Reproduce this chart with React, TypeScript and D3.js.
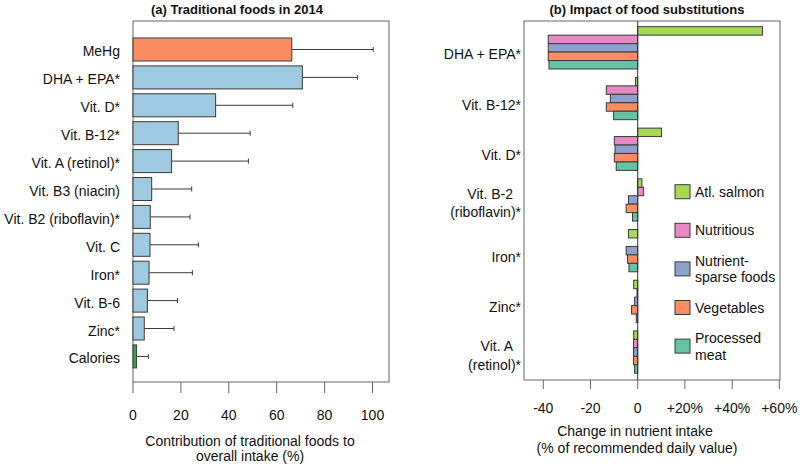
import React from "react";
import * as d3 from "d3";

// (a) Traditional foods in 2014
const nutrientsA = [
  "MeHg", "DHA + EPA*", "Vit. D*", "Vit. B-12*", "Vit. A (retinol)*", "Vit. B3 (niacin)",
  "Vit. B2 (riboflavin)*", "Vit. C", "Iron*", "Vit. B-6", "Zinc*", "Calories",
];
const contribution = [66.3, 70.7, 34.5, 18.9, 16.1, 7.8, 7.2, 7.1, 6.7, 6.0, 4.7, 1.5];
const contributionUpper = [100.3, 93.7, 66.7, 48.9, 48.2, 24.5, 23.8, 27.3, 24.8, 18.6, 17.1, 6.4];
const ticksA = [0, 20, 40, 60, 80, 100];

// (b) Impact of food substitutions
const nutrientsB = [
  ["DHA + EPA*"], ["Vit. B-12*"], ["Vit. D*"], ["Vit. B-2 ", "(riboflavin)*"],
  ["Iron*"], ["Zinc*"], ["Vit. A ", "(retinol)*"],
];
const substitutes = ["Atl. salmon", "Nutritious", "Nutrient-sparse foods", "Vegetables", "Processed meat"];
const legendLines = [["Atl. salmon"], ["Nutritious"], ["Nutrient-", "sparse foods"], ["Vegetables"], ["Processed", "meat"]];
// rows = nutrients, cols = substitutes
const changes = [
  [52.9, -37.9, -37.9, -37.9, -37.6],
  [-0.9, -13.3, -11.6, -13.3, -10.2],
  [10.1, -9.9, -9.6, -9.9, -9.1],
  [1.8, 2.5, -3.9, -4.9, -2.2],
  [-3.9, 0, -4.9, -4.3, -3.7],
  [-1.7, -0.3, -1.3, -2.6, -0.6],
  [-1.7, -1.8, -1.8, -1.8, -1.3],
];
const ticksB = [-40, -20, 0, 20, 40, 60];
const tickLabelsB = ["-40", "-20", "0", "+20%", "+40%", "+60%"];

const colorsB = ["#a6d854", "#e78ac3", "#8da0cb", "#fc8d62", "#66c2a5"];
const font = "'Liberation Sans', Arial, sans-serif";
const frame = "#666";
const barStroke = "#3a3a3a";

export default function App() {
  // panel a scales
  const xA = d3.scaleLinear().domain([0, 100]).range([133, 372.5]);
  const yA = d3.scaleBand<string>().domain(nutrientsA).range([33.1, 372.8]).padding(0.175);
  const boxA = { x0: 133, x1: 389, y0: 21, y1: 382 };
  const fillA = (d: string) => (d === "MeHg" ? "#fc8d62" : d === "Calories" ? "#31a354" : "#9ecae1");

  // panel b scales
  const xB = d3.scaleLinear().domain([-40, 60]).range([543.3, 779.3]);
  const groupKeys = nutrientsB.map((d) => d.join(""));
  const yB = d3.scaleBand<string>().domain(groupKeys).range([21, 378.9]).paddingInner(0.166).paddingOuter(0.1124);
  const yInner = d3.scaleBand<string>().domain(substitutes).range([0, yB.bandwidth()]);
  const boxB = { x0: 524, x1: 780, y0: 21, y1: 380 };
  const legendY = d3.scaleLinear().domain([0, 4]).range([191.7, 346.1]);

  return (
    <svg width={800} height={468} style={{ position: "absolute", left: 0, top: 0, background: "#fff" }} fontFamily={font}>
      {/* ---------- panel a ---------- */}
      <text x={237} y={14} textAnchor="middle" fontSize={13} fontWeight="bold" fill="#111">
        (a) Traditional foods in 2014
      </text>
      <rect x={boxA.x0} y={boxA.y0} width={boxA.x1 - boxA.x0} height={boxA.y1 - boxA.y0} fill="none" stroke={frame} strokeWidth={1} />
      {nutrientsA.map((d, i) => {
        const y = yA(d)!;
        const cy = y + yA.bandwidth() / 2;
        return (
          <g key={d}>
            <line x1={xA(contribution[i])} x2={xA(contributionUpper[i])} y1={cy} y2={cy} stroke={barStroke} strokeWidth={1} />
            <line x1={xA(contributionUpper[i])} x2={xA(contributionUpper[i])} y1={cy - 2.5} y2={cy + 2.5} stroke={barStroke} strokeWidth={1} />
            <rect x={xA(0)} y={y} width={xA(contribution[i]) - xA(0)} height={yA.bandwidth()} fill={fillA(d)} stroke={barStroke} strokeWidth={1} />
            <text x={120} y={cy + 7} textAnchor="end" fontSize={14} fill="#111">{d}</text>
          </g>
        );
      })}
      {ticksA.map((t) => (
        <g key={t}>
          <line x1={xA(t)} x2={xA(t)} y1={boxA.y1} y2={boxA.y1 + 11} stroke={frame} />
          <text x={xA(t)} y={420} textAnchor="middle" fontSize={14} fill="#111">{t}</text>
        </g>
      ))}
      <text x={250} y={446} textAnchor="middle" fontSize={14} fill="#111">Contribution of traditional foods to</text>
      <text x={250} y={461} textAnchor="middle" fontSize={14} fill="#111">overall intake (%)</text>

      {/* ---------- panel b ---------- */}
      <text x={647} y={14} textAnchor="middle" fontSize={13} fontWeight="bold" fill="#111">
        (b) Impact of food substitutions
      </text>
      <rect x={boxB.x0} y={boxB.y0} width={boxB.x1 - boxB.x0} height={boxB.y1 - boxB.y0} fill="none" stroke={frame} strokeWidth={1} />
      {nutrientsB.map((lines, gi) => {
        const gy = yB(groupKeys[gi])!;
        const gc = gy + yB.bandwidth() / 2;
        return (
          <g key={groupKeys[gi]}>
            {substitutes.map((s, si) => {
              const v = changes[gi][si];
              if (v === 0) return null;
              const x0 = xB(Math.min(0, v));
              const x1 = xB(Math.max(0, v));
              return (
                <rect key={s} x={x0} y={gy + yInner(s)!} width={x1 - x0} height={yInner.bandwidth()}
                  fill={colorsB[si]} stroke={barStroke} strokeWidth={1} />
              );
            })}
            {lines.length === 1 ? (
              <text x={521} y={gc + 11} textAnchor="end" fontSize={14} fill="#111">{lines[0]}</text>
            ) : (
              <>
                <text x={513} y={gc - 1} textAnchor="end" fontSize={14} fill="#111">{lines[0].trim()}</text>
                <text x={521} y={gc + 17.5} textAnchor="end" fontSize={14} fill="#111">{lines[1]}</text>
              </>
            )}
          </g>
        );
      })}
      <line x1={xB(0)} x2={xB(0)} y1={boxB.y0} y2={boxB.y1} stroke="#333" strokeWidth={1} />
      {ticksB.map((t, i) => (
        <g key={t}>
          <line x1={xB(t)} x2={xB(t)} y1={boxB.y1} y2={boxB.y1 + 9} stroke={frame} />
          <text x={xB(t)} y={413} textAnchor="middle" fontSize={14} fill="#111">{tickLabelsB[i]}</text>
        </g>
      ))}
      <text x={635} y={436} textAnchor="middle" fontSize={14} fill="#111">Change in nutrient intake</text>
      <text x={637} y={453} textAnchor="middle" fontSize={14} fill="#111">(% of recommended daily value)</text>

      {/* legend */}
      {legendLines.map((lines, i) => {
        const cy = legendY(i);
        return (
          <g key={substitutes[i]}>
            <rect x={675} y={cy - 7} width={15} height={14} fill={colorsB[i]} stroke={barStroke} strokeWidth={1} />
            {lines.length === 1 ? (
              <text x={695} y={cy + 5} fontSize={14} fill="#111">{lines[0]}</text>
            ) : (
              <>
                <text x={695} y={cy - 3} fontSize={14} fill="#111">{lines[0]}</text>
                <text x={695} y={cy + 13.5} fontSize={14} fill="#111">{lines[1]}</text>
              </>
            )}
          </g>
        );
      })}
    </svg>
  );
}
